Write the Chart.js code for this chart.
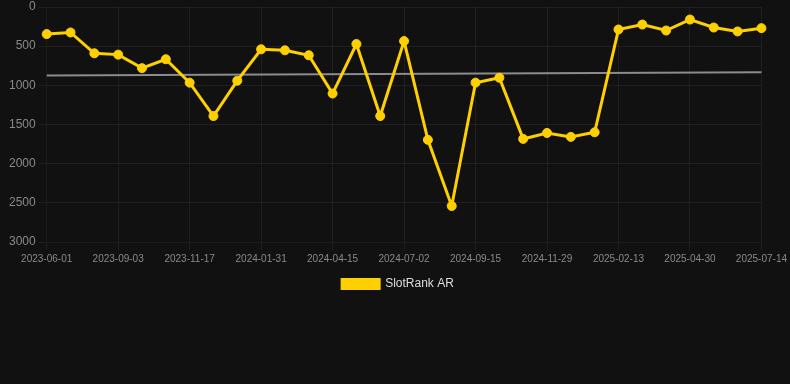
<!DOCTYPE html>
<html>
<head>
<meta charset="utf-8">
<script src="https://cdn.jsdelivr.net/npm/chart.js@4/dist/chart.umd.min.js"></script>
<style>
  html, body { margin: 0; padding: 0; background: #111111; }
  #wrap { width: 790px; height: 300px; position: relative; }
</style>
</head>
<body>
<div id="wrap"><canvas id="rankChart"></canvas></div>
<script>
// dates along the x axis
const dates = [
  '2023-06-01', '2023-07-02', '2023-08-03', '2023-09-03', '2023-09-28', '2023-10-23',
  '2023-11-17', '2023-12-12', '2024-01-06', '2024-01-31', '2024-02-25', '2024-03-21',
  '2024-04-15', '2024-05-11', '2024-06-06', '2024-07-02', '2024-07-27', '2024-08-21',
  '2024-09-15', '2024-10-10', '2024-11-04', '2024-11-29', '2024-12-24', '2025-01-19',
  '2025-02-13', '2025-03-10', '2025-04-05', '2025-04-30', '2025-05-25', '2025-06-19',
  '2025-07-14'
];

// rank values
const rankAR = [
  346, 325, 591, 608, 781, 667, 966, 1392, 941, 540, 553, 616, 1105, 473, 1392,
  435, 1696, 2540, 966, 903, 1684, 1608, 1658, 1599, 287, 224, 300, 160, 262, 312, 270
];

// trend line: only its two ends, the line spans the gap
const trend = dates.map(() => null);
trend[0] = 873;
trend[dates.length - 1] = 832;

const tickColor = '#8a8a8a';
const gridColor = 'rgba(255,255,255,0.06)';

new Chart(document.getElementById('rankChart'), {
  type: 'line',
  data: {
    labels: dates,
    datasets: [
      {
        label: 'SlotRank AR',
        data: rankAR,
        borderColor: '#ffd000',
        backgroundColor: '#ffd000',
        borderWidth: 3,
        pointRadius: 4.5,
        pointBorderWidth: 1,
        pointHoverRadius: 6,
        tension: 0,
        order: 1
      },
      {
        label: 'trend',
        data: trend,
        borderColor: '#8c8c8c',
        borderWidth: 2,
        pointRadius: 0,
        spanGaps: true,
        order: 2
      }
    ]
  },
  options: {
    responsive: true,
    maintainAspectRatio: false,
    animation: false,
    layout: { padding: { top: 0, right: 0, left: 6, bottom: 0 } },
    plugins: {
      legend: {
        position: 'bottom',
        labels: {
          color: '#dddddd',
          font: { size: 12 },
          boxWidth: 37,
          boxHeight: 9,
          filter: item => item.text !== 'trend'
        }
      },
      tooltip: { enabled: false }
    },
    scales: {
      x: {
        ticks: {
          color: tickColor,
          font: { size: 10 },
          maxRotation: 0,
          autoSkip: true,
          maxTicksLimit: 11
        },
        grid: { color: gridColor }
      },
      y: {
        reverse: true,
        min: 0,
        max: 3000,
        ticks: {
          stepSize: 500,
          color: tickColor,
          font: { size: 12, lineHeight: 0.6 },
          callback: v => String(v)
        },
        grid: { color: gridColor }
      }
    }
  }
});
</script>
</body>
</html>
